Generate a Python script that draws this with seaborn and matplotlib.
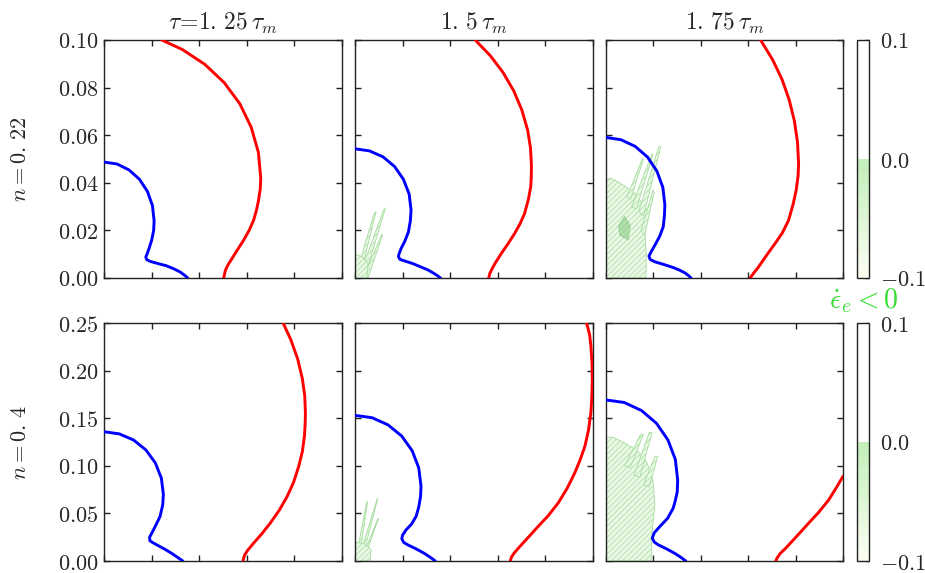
import numpy as np
import pandas as pd
import matplotlib
matplotlib.use("Agg")
import matplotlib.pyplot as plt
import seaborn as sns
from matplotlib.colors import LinearSegmentedColormap, BoundaryNorm, ListedColormap
from matplotlib.cm import ScalarMappable

# ---------------- data ----------------
col_titles = [r'$\tau\!=\!1.\,25\,\tau_m$', r'$1.\,5\,\tau_m$', r'$1.\,75\,\tau_m$']
row_labels = [r'$n=0.\,22$', r'$n=0.\,4$']
row_ymax = [0.10, 0.25]
yticks_top = [0.00, 0.02, 0.04, 0.06, 0.08, 0.10]
yticklabels_top = ['0.00', '0.02', '0.04', '0.06', '0.08', '0.10']
yticks_bot = [0.00, 0.05, 0.10, 0.15, 0.20, 0.25]
yticklabels_bot = ['0.00', '0.05', '0.10', '0.15', '0.20', '0.25']
xticks_top = [0.00, 0.02, 0.04, 0.06, 0.08, 0.10]
xticks_bot = [0.00, 0.05, 0.10, 0.15, 0.20, 0.25]
cbar_ticks = [-0.1, 0.0, 0.1]
cbar_ticklabels = [r'$-0.1$', r'$0.0$', r'$0.1$']

# blue curves (x, y)
blue_x_11 = [0, 0.0055, 0.01055, 0.0149, 0.0183, 0.0204, 0.0211, 0.0209, 0.0201, 0.0190, 0.0181, 0.0176, 0.0180, 0.0194, 0.0230, 0.0264, 0.0295, 0.0321, 0.0340, 0.0353]
blue_y_11 = [0.0487, 0.0479, 0.0454, 0.0415, 0.03635, 0.0304, 0.0240, 0.0200, 0.0160, 0.0125, 0.0100, 0.0088, 0.0077, 0.0070, 0.0060, 0.0051, 0.0038, 0.0025, 0.0011, 0.0]
blue_x_12 = [0, 0.0061, 0.0118, 0.0167, 0.0204, 0.0228, 0.0236, 0.0233, 0.0225, 0.0210, 0.0194, 0.0185, 0.0183, 0.0190, 0.0208, 0.0245, 0.0278, 0.0305, 0.0328, 0.0347, 0.0360]
blue_y_12 = [0.0543, 0.0534, 0.0509, 0.0468, 0.04145, 0.03525, 0.0286, 0.0240, 0.0194, 0.0155, 0.0124, 0.0100, 0.0089, 0.0078, 0.0072, 0.0060, 0.0046, 0.0035, 0.0022, 0.0010, 0.0]
blue_x_13 = [0, 0.0065, 0.0125, 0.0177, 0.02165, 0.02415, 0.0250, 0.0248, 0.0243, 0.0228, 0.0208, 0.0192, 0.0183, 0.0188, 0.0208, 0.0245, 0.0285, 0.0312, 0.0335, 0.0350, 0.0360]
blue_y_13 = [0.0591, 0.0581, 0.0553, 0.0508, 0.0449, 0.03805, 0.0307, 0.0260, 0.0215, 0.0175, 0.0138, 0.0110, 0.0092, 0.0078, 0.0068, 0.0057, 0.0044, 0.0033, 0.0021, 0.0010, 0.0]
blue_x_21 = [0, 0.01625, 0.03125, 0.04425, 0.0541, 0.0604, 0.0625, 0.0618, 0.0590, 0.0545, 0.0503, 0.0480, 0.0483, 0.0513, 0.0555, 0.0638, 0.0713, 0.0775, 0.0830]
blue_y_21 = [0.1358, 0.1335, 0.1270, 0.1165, 0.1029, 0.0870, 0.0700, 0.0588, 0.0468, 0.0375, 0.0293, 0.0250, 0.0213, 0.0193, 0.0170, 0.0125, 0.0080, 0.0038, 0.0]
blue_x_22 = [0, 0.0180, 0.03475, 0.04915, 0.06025, 0.0671, 0.0695, 0.0690, 0.0670, 0.0643, 0.0595, 0.0538, 0.0500, 0.0493, 0.0513, 0.0555, 0.0638, 0.0730, 0.0795, 0.0845]
blue_y_22 = [0.1530, 0.1505, 0.1430, 0.13125, 0.11575, 0.09775, 0.0785, 0.0678, 0.05625, 0.0468, 0.03875, 0.03275, 0.0270, 0.02325, 0.0195, 0.0170, 0.0130, 0.0080, 0.00375, 0.0]
blue_x_23 = [0, 0.01975, 0.0380, 0.05375, 0.06575, 0.0735, 0.0760, 0.0755, 0.07325, 0.07125, 0.0655, 0.05725, 0.05125, 0.04925, 0.05125, 0.0555, 0.06375, 0.0730, 0.0795, 0.0845]
blue_y_23 = [0.16925, 0.1665, 0.1580, 0.1445, 0.1271, 0.10675, 0.0850, 0.0725, 0.0625, 0.0555, 0.0450, 0.03625, 0.0295, 0.0240, 0.0200, 0.0170, 0.0130, 0.0080, 0.00375, 0.0]

# red curves (x, y)
red_x_11 = [0.0243, 0.0330, 0.0424, 0.0506, 0.0572, 0.0620, 0.0650, 0.0660, 0.0658, 0.0651, 0.0642, 0.0630, 0.0611, 0.0588, 0.0563, 0.0539, 0.0522, 0.0511, 0.0504]
red_y_11 = [0.1000, 0.0960, 0.0898, 0.0821, 0.0732, 0.0633, 0.0528, 0.0420, 0.0375, 0.0328, 0.0285, 0.0243, 0.0200, 0.0159, 0.0120, 0.0082, 0.0055, 0.0032, 0.0]
red_x_12 = [0.0506, 0.0569, 0.0623, 0.0668, 0.07025, 0.0727, 0.0739, 0.0743, 0.0742, 0.0740, 0.0730, 0.0714, 0.0695, 0.0672, 0.0645, 0.0616, 0.0595, 0.0581, 0.0568, 0.0563]
red_y_12 = [0.1000, 0.0935, 0.0864, 0.0787, 0.0706, 0.0621, 0.0546, 0.0470, 0.0420, 0.0384, 0.0330, 0.0271, 0.0228, 0.0187, 0.0145, 0.0103, 0.0070, 0.0046, 0.0020, 0.0]
red_x_13 = [0.0653, 0.0704, 0.0743, 0.0773, 0.0795, 0.08085, 0.0813, 0.0811, 0.0803, 0.0790, 0.0771, 0.0745, 0.0714, 0.0680, 0.0644, 0.0622, 0.0609]
red_y_13 = [0.1000, 0.09165, 0.0835, 0.0750, 0.06615, 0.0571, 0.0480, 0.0430, 0.0370, 0.0310, 0.0243, 0.0190, 0.0145, 0.0098, 0.0046, 0.0018, 0.0]
red_x_21 = [0.1885, 0.1965, 0.2038, 0.2088, 0.2113, 0.2120, 0.2118, 0.2110, 0.2088, 0.2050, 0.1995, 0.1928, 0.1845, 0.1750, 0.1663, 0.1575, 0.1513, 0.1480, 0.1470, 0.1463]
red_y_21 = [0.2500, 0.2328, 0.2125, 0.1915, 0.1738, 0.1558, 0.1450, 0.1313, 0.1150, 0.0995, 0.0825, 0.0678, 0.0533, 0.0398, 0.0288, 0.0188, 0.0113, 0.0063, 0.0030, 0.0]
red_x_22 = [0.2438, 0.2470, 0.2483, 0.2495, 0.2498, 0.2493, 0.2483, 0.2458, 0.2420, 0.2370, 0.2313, 0.2233, 0.2138, 0.2033, 0.1928, 0.1825, 0.1733, 0.1675, 0.1645, 0.1635]
red_y_22 = [0.2500, 0.2375, 0.2260, 0.2075, 0.1910, 0.1725, 0.1558, 0.1375, 0.1205, 0.1063, 0.0925, 0.0763, 0.0608, 0.0475, 0.0363, 0.0250, 0.0150, 0.0083, 0.0038, 0.0]
red_x_23 = [0.2500, 0.2425, 0.2350, 0.2245, 0.2138, 0.2045, 0.19625, 0.18925, 0.1840, 0.1805, 0.17925]
red_y_23 = [0.0890, 0.07625, 0.06425, 0.05125, 0.03975, 0.0295, 0.0205, 0.0130, 0.0080, 0.0030, 0.0]

# green (eps_dot_e < 0) regions, polygons (x list, y list)
green_12 = [
    ([0.0000, 0.0020, 0.0089, 0.0080], [0.0, 0.0, 0.0279, 0.0270]),
    ([0.0015, 0.0040, 0.0128, 0.0120], [0.0, 0.0, 0.0293, 0.0285]),
    ([0.0035, 0.0055, 0.0117, 0.0110], [0.0, 0.0, 0.0184, 0.0178]),
    ([0.0000, 0.0050, 0.0055, 0.0030, 0.0000], [0.0, 0.0, 0.0060, 0.0090, 0.0100]),
]
green_13 = [
    ([0, 0.0170, 0.0172, 0.0165, 0.0180, 0.0150, 0.0120, 0.0060, 0.0020, 0],
     [0, 0, 0.010, 0.020, 0.028, 0.032, 0.036, 0.040, 0.042, 0.041]),
    ([0.0140, 0.0160, 0.0233, 0.0225], [0.028, 0.026, 0.0553, 0.0553]),
    ([0.0110, 0.0130, 0.0200, 0.0195], [0.030, 0.029, 0.0520, 0.0520]),
    ([0.0090, 0.0105, 0.0160, 0.0155], [0.034, 0.033, 0.0500, 0.0500]),
    ([0.0150, 0.0165, 0.0205, 0.0200], [0.020, 0.018, 0.0360, 0.0370]),
]
green_dark_13 = [([0.0060, 0.0095, 0.0105, 0.0080, 0.0055], [0.018, 0.016, 0.022, 0.026, 0.022])]
green_22 = [
    ([0.0005, 0.0040, 0.0133, 0.0120], [0.0, 0.0, 0.0625, 0.0610]),
    ([0.0030, 0.0070, 0.0240, 0.0230], [0.0, 0.0, 0.0660, 0.0640]),
    ([0.0060, 0.0090, 0.0248, 0.0240], [0.0, 0.0, 0.0450, 0.0440]),
    ([0.0000, 0.0160, 0.0170, 0.0100, 0.0000], [0.0, 0.0, 0.0120, 0.0180, 0.0200]),
]
green_23 = [
    ([0, 0.048, 0.049, 0.052, 0.050, 0.045, 0.040, 0.030, 0.020, 0.008, 0],
     [0, 0, 0.030, 0.060, 0.085, 0.100, 0.110, 0.118, 0.124, 0.130, 0.130]),
    ([0.030, 0.036, 0.049, 0.046], [0.090, 0.088, 0.135, 0.135]),
    ([0.020, 0.026, 0.040, 0.037], [0.100, 0.098, 0.133, 0.133]),
    ([0.040, 0.046, 0.055, 0.052], [0.080, 0.078, 0.110, 0.110]),
]

blue = {(0, 0): (blue_x_11, blue_y_11), (0, 1): (blue_x_12, blue_y_12), (0, 2): (blue_x_13, blue_y_13),
        (1, 0): (blue_x_21, blue_y_21), (1, 1): (blue_x_22, blue_y_22), (1, 2): (blue_x_23, blue_y_23)}
red = {(0, 0): (red_x_11, red_y_11), (0, 1): (red_x_12, red_y_12), (0, 2): (red_x_13, red_y_13),
       (1, 0): (red_x_21, red_y_21), (1, 1): (red_x_22, red_y_22), (1, 2): (red_x_23, red_y_23)}
green = {(0, 1): green_12, (0, 2): green_13, (1, 1): green_22, (1, 2): green_23}
green_dark = {(0, 2): green_dark_13}

# ---------------- style ----------------
sns.set_style("ticks")
plt.rcParams['font.family'] = ['DejaVu Serif']
plt.rcParams['mathtext.fontset'] = 'cm'
plt.rcParams['hatch.color'] = '#a6dd9f'
plt.rcParams['hatch.linewidth'] = 0.5
plt.rcParams['lines.solid_capstyle'] = 'round'
plt.rcParams['lines.solid_joinstyle'] = 'round'

W, H = 925, 573
fig = plt.figure(figsize=(W / 100, H / 100), dpi=100)


def rect(l, t, w, h):
    return [l / W, 1 - (t + h) / H, w / W, h / H]


col_left = [104, 355, 605.5]
row_top = [40, 323]
pw, ph = 237.5, 238
FS = 16
spine_c = '#222222'

for r in range(2):
    ymax = row_ymax[r]
    for c in range(3):
        ax = fig.add_axes(rect(col_left[c], row_top[r], pw, ph))
        for poly_x, poly_y in green.get((r, c), []):
            ax.fill(poly_x, poly_y, facecolor='#eaf8e6', edgecolor='#a6dd9f', hatch='//////', lw=0.6, zorder=1)
        for poly_x, poly_y in green_dark.get((r, c), []):
            ax.fill(poly_x, poly_y, facecolor='#6fbf6a', edgecolor='#5aa55a', alpha=0.45, lw=0.5, zorder=1)
        bx, by = blue[(r, c)]
        rx, ry = red[(r, c)]
        sns.lineplot(x=bx, y=by, sort=False, estimator=None, color='#0000ff', lw=2.1, ax=ax, zorder=3)
        sns.lineplot(x=rx, y=ry, sort=False, estimator=None, color='#ff0000', lw=2.1, ax=ax, zorder=3)
        ax.set_xlim(0, ymax)
        ax.set_ylim(0, ymax)
        ax.set_xlabel('')
        ax.set_ylabel('')
        ax.set_xticks(xticks_top if r == 0 else xticks_bot)
        ax.set_xticklabels([])
        ax.set_yticks(yticks_top if r == 0 else yticks_bot)
        if c == 0:
            labs = yticklabels_top if r == 0 else yticklabels_bot
            ax.set_yticklabels(['$' + s + '$' for s in labs], fontsize=FS)
        else:
            ax.set_yticklabels([])
        ax.tick_params(direction='in', top=True, right=True, length=4, width=1.0,
                       color=spine_c, pad=4)
        for sp in ax.spines.values():
            sp.set_color(spine_c)
            sp.set_linewidth(1.0)
        if r == 0:
            ax.set_title(col_titles[c], fontsize=17, pad=7)

    # colorbar
    cax = fig.add_axes(rect(857, row_top[r], 12, ph))
    levels = np.linspace(-0.1, 0.1, 21)
    neg = LinearSegmentedColormap.from_list('g', ['#f9fcef', '#c4efbd'])
    cols = [neg(i / 9) for i in range(10)] + ['#ffffff'] * 10
    cmap = ListedColormap(cols)
    norm = BoundaryNorm(levels, cmap.N)
    sm = ScalarMappable(norm=norm, cmap=cmap)
    cb = fig.colorbar(sm, cax=cax, ticks=cbar_ticks)
    cb.minorticks_off()
    cb.ax.set_yticklabels(cbar_ticklabels, fontsize=16)
    cb.outline.set_edgecolor(spine_c)
    cb.outline.set_linewidth(1.0)
    cb.ax.tick_params(direction='in', length=3, width=1.0, color=spine_c, pad=8)

    fig.text(20 / W, 1 - (row_top[r] + ph / 2) / H, row_labels[r], rotation=90,
             ha='center', va='center', fontsize=FS)

fig.text(864 / W, 1 - 301 / H, r'$\dot{\epsilon}_e<0$', color='#33dd33',
         ha='center', va='center', fontsize=20)

fig.savefig('out.png', dpi=100)
